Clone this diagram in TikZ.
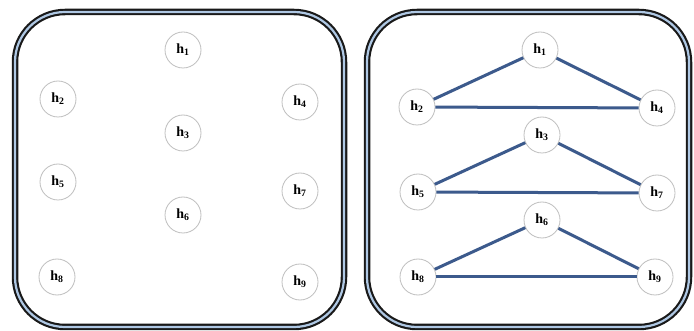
\documentclass[tikz,border=0pt]{standalone}
\usepackage{fontspec}
\setmainfont{Liberation Serif}
\newcommand{\hlab}[1]{h\textsubscript{#1}}
\begin{document}
\begin{tikzpicture}[x=1pt,y=-1pt,
  hnode/.style={circle,draw=black!25,line width=0.8pt,fill=white,minimum size=36pt,inner sep=0pt,font=\fontsize{14}{14}\selectfont\bfseries},
  frameouter/.style={draw=black!90,line width=6.5pt,rounded corners=50pt},
  frameinner/.style={draw={rgb,255:red,175;green,200;blue,228},line width=2.2pt,rounded corners=50pt},
  edge/.style={line width=3pt,draw={rgb,255:red,60;green,90;blue,140}}]
\useasboundingbox (0,0) rectangle (694,331);
\fill[white] (0,0) rectangle (694,331);
% frames
\draw[frameouter] (15,12) rectangle (344,327);
\draw[frameinner] (15,12) rectangle (344,327);
\draw[frameouter] (367,12) rectangle (689,327);
\draw[frameinner] (367,12) rectangle (689,327);
% left panel
\node[hnode] (a1) at (183,50) {\hlab{1}};
\node[hnode] (a2) at (58,99) {\hlab{2}};
\node[hnode] (a4) at (300,102) {\hlab{4}};
\node[hnode] (a3) at (183,133) {\hlab{3}};
\node[hnode] (a5) at (58,182) {\hlab{5}};
\node[hnode] (a7) at (300,191) {\hlab{7}};
\node[hnode] (a6) at (183,215) {\hlab{6}};
\node[hnode] (a8) at (57,277) {\hlab{8}};
\node[hnode] (a9) at (300,282) {\hlab{9}};
% right panel
\node[hnode] (b1) at (540,50) {\hlab{1}};
\node[hnode] (b2) at (417,107) {\hlab{2}};
\node[hnode] (b4) at (657,108) {\hlab{4}};
\node[hnode] (b3) at (542,135) {\hlab{3}};
\node[hnode] (b5) at (418,192) {\hlab{5}};
\node[hnode] (b7) at (657,193) {\hlab{7}};
\node[hnode] (b6) at (542,220) {\hlab{6}};
\node[hnode] (b8) at (418,277) {\hlab{8}};
\node[hnode] (b9) at (655,277) {\hlab{9}};
\draw[edge] (b2) -- (b1);
\draw[edge] (b1) -- (b4);
\draw[edge] (b2) -- (b4);
\draw[edge] (b5) -- (b3);
\draw[edge] (b3) -- (b7);
\draw[edge] (b5) -- (b7);
\draw[edge] (b8) -- (b6);
\draw[edge] (b6) -- (b9);
\draw[edge] (b8) -- (b9);
\end{tikzpicture}
\end{document}
